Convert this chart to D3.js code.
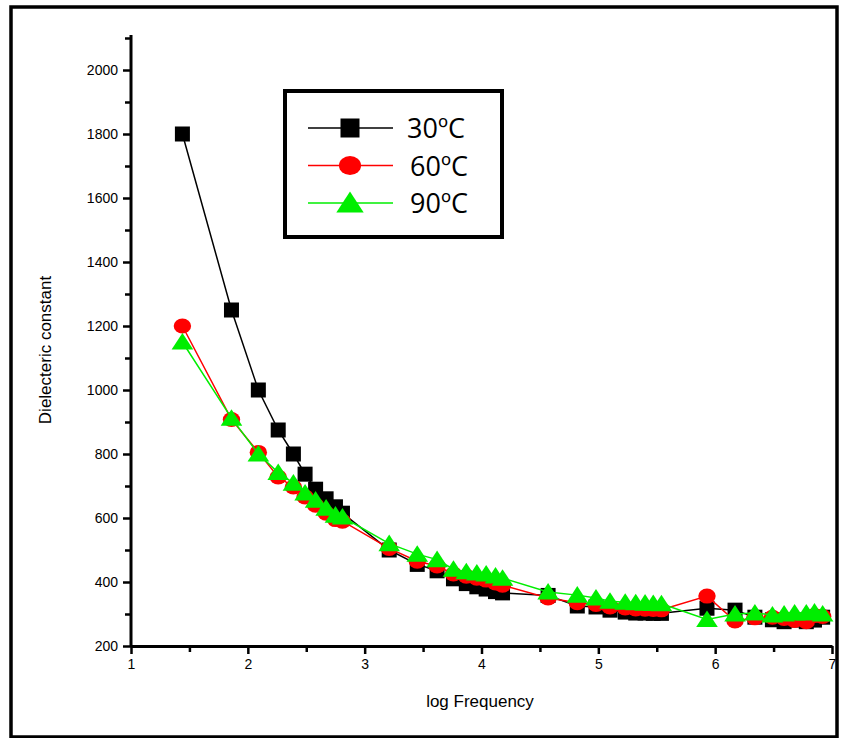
<!DOCTYPE html>
<html>
<head>
<meta charset="utf-8">
<script src="https://cdn.jsdelivr.net/npm/d3@7"></script>
<style>
  body { margin: 0; background: #fff; }
  .axis text { font-family: "Liberation Sans", Arial, sans-serif; font-size: 14px; fill: #000; }
  .axis path, .axis line { stroke: #000; }
</style>
</head>
<body>
<div id="chart"></div>
<script>
// log frequency positions (shared by all three temperatures)
const logFreq = [1.44, 1.86, 2.09, 2.26, 2.39, 2.49, 2.58, 2.67, 2.75, 2.81,
  3.21, 3.45, 3.62, 3.76, 3.87, 3.96, 4.04, 4.12, 4.18,
  4.57, 4.82, 4.98, 5.10, 5.23, 5.32, 5.40, 5.47, 5.54,
  5.93, 6.17, 6.34, 6.49, 6.59, 6.68, 6.78, 6.85, 6.92];

const eps30 = [1800, 1250, 1000, 875, 800, 737, 690, 660, 635, 615,
  500, 455, 435, 410, 395, 385, 378, 370, 366,
  358, 325, 322, 312, 306, 303, 303, 302, 302,
  318, 312, 290, 282, 276, 281, 276, 281, 290];

const eps60 = [1200, 908, 805, 728, 697, 666, 640, 615, 595, 590,
  505, 465, 450, 425, 418, 412, 406, 397, 390,
  350, 335, 330, 322, 319, 316, 315, 314, 313,
  356, 278, 288, 290, 286, 280, 276, 295, 292];

const eps90 = [1150, 912, 800, 742, 709, 678, 656, 631, 609, 603,
  520, 487, 470, 440, 432, 428, 425, 419, 412,
  369, 359, 350, 340, 337, 335, 334, 333, 332,
  283, 300, 303, 297, 300, 303, 303, 306, 300];

const seriesNames = ["30ºC", "60ºC", "90ºC"];
const xTicks = [1, 2, 3, 4, 5, 6, 7];
const yTicks = [200, 400, 600, 800, 1000, 1200, 1400, 1600, 1800, 2000];

const series = [
  {name: seriesNames[0], values: eps30, color: "#000000", shape: "square"},
  {name: seriesNames[1], values: eps60, color: "#ff0000", shape: "circle"},
  {name: seriesNames[2], values: eps90, color: "#00ee00", shape: "triangle"}
];

const W = 846, H = 738;
const svg = d3.select("#chart").append("svg")
  .attr("width", W).attr("height", H);

// outer frame
svg.append("rect")
  .attr("x", 11).attr("y", 7)
  .attr("width", 826).attr("height", 730)
  .attr("fill", "none").attr("stroke", "#000").attr("stroke-width", 3.5);

const x = d3.scaleLinear().domain([1, 7]).range([131, 832]);
const y = d3.scaleLinear().domain([200, 2100]).range([646, 38]);

// minor ticks
svg.append("g")
  .attr("class", "axis")
  .attr("transform", "translate(0,646)")
  .call(d3.axisBottom(x).tickValues(d3.range(1.5, 7, 1)).tickSize(6).tickFormat(""))
  .call(g => g.select(".domain").remove())
  .selectAll("line").attr("stroke-width", 2.5);

svg.append("g")
  .attr("class", "axis")
  .attr("transform", "translate(131,0)")
  .call(d3.axisLeft(y).tickValues(d3.range(300, 2101, 200)).tickSize(6).tickFormat(""))
  .call(g => g.select(".domain").remove())
  .selectAll("line").attr("stroke-width", 2.5);

// major axes
const xAxis = svg.append("g")
  .attr("class", "axis")
  .attr("transform", "translate(0,646)")
  .call(d3.axisBottom(x).tickValues(xTicks).tickFormat(d3.format("d"))
    .tickSize(8).tickSizeOuter(0).tickPadding(5));
xAxis.select(".domain").attr("stroke-width", 3);
xAxis.selectAll("line").attr("stroke-width", 2.5);

const yAxis = svg.append("g")
  .attr("class", "axis")
  .attr("transform", "translate(131,0)")
  .call(d3.axisLeft(y).tickValues(yTicks).tickFormat(d3.format("d"))
    .tickSize(8).tickSizeOuter(0).tickPadding(5));
yAxis.select(".domain").attr("stroke-width", 3)
  .attr("d", `M0,${y(2100) - 3}V${646}`);
yAxis.selectAll("line").attr("stroke-width", 2.5);

// axis titles
svg.append("text")
  .attr("x", 480).attr("y", 707)
  .attr("text-anchor", "middle")
  .style("font-family", "Liberation Sans, Arial, sans-serif")
  .style("font-size", "17px")
  .text("log Frequency");

svg.append("text")
  .attr("transform", "translate(51,350) rotate(-90)")
  .attr("text-anchor", "middle")
  .style("font-family", "Liberation Sans, Arial, sans-serif")
  .style("font-size", "17px")
  .text("Dielecteric constant");

function drawMarker(g, shape, color, cx, cy, size) {
  if (shape === "square") {
    g.append("rect")
      .attr("x", cx - size / 2).attr("y", cy - size / 2)
      .attr("width", size).attr("height", size)
      .attr("fill", color);
  } else if (shape === "circle") {
    g.append("ellipse")
      .attr("cx", cx).attr("cy", cy)
      .attr("rx", size * 0.58).attr("ry", size * 0.5)
      .attr("fill", color);
  } else {
    const s = size * 1.2;
    g.append("path")
      .attr("d", `M${cx},${cy - s * 0.5}L${cx + s * 0.6},${cy + s * 0.42}L${cx - s * 0.6},${cy + s * 0.42}Z`)
      .attr("fill", color);
  }
}

const line = d3.line()
  .x((d, i) => x(logFreq[i]))
  .y(d => y(d));

series.forEach(s => {
  const g = svg.append("g");
  g.append("path")
    .datum(s.values)
    .attr("d", line)
    .attr("fill", "none")
    .attr("stroke", s.color)
    .attr("stroke-width", 1.5);
  s.values.forEach((v, i) => drawMarker(g, s.shape, s.color, x(logFreq[i]), y(v), 15));
});

// legend
const leg = svg.append("g");
leg.append("rect")
  .attr("x", 285).attr("y", 91)
  .attr("width", 217).attr("height", 146)
  .attr("fill", "#fff").attr("stroke", "#000").attr("stroke-width", 4);

series.forEach((s, i) => {
  const ly = 128 + i * 37.5;
  leg.append("line")
    .attr("x1", 308).attr("x2", 393)
    .attr("y1", ly).attr("y2", ly)
    .attr("stroke", s.color).attr("stroke-width", 1.5);
  drawMarker(leg, s.shape, s.color, 350, ly, 19);
  leg.append("text")
    .attr("x", i === 0 ? 407 : 410).attr("y", ly + 10)
    .style("font-family", "Open Sans, Lato, sans-serif")
    .style("font-size", "27px")
    .text(s.name);
});
</script>
</body>
</html>
